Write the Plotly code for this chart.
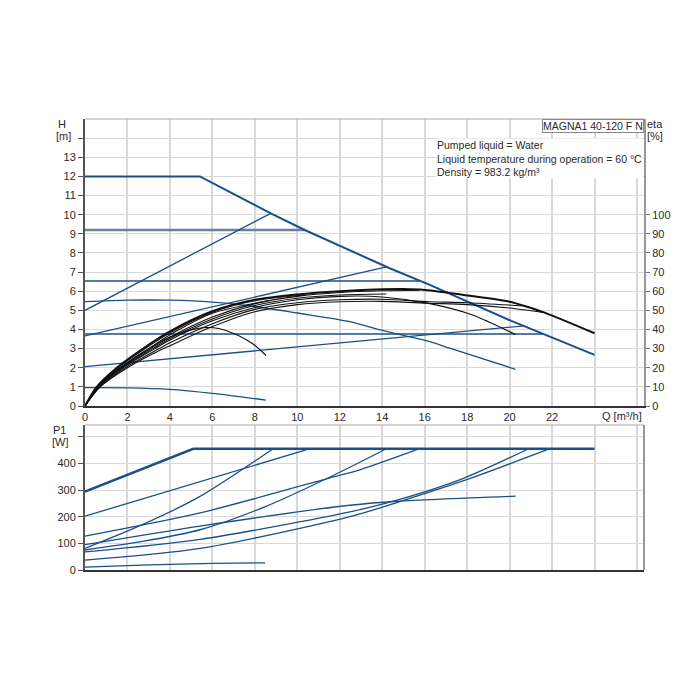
import plotly.graph_objects as go

# ---- head curves H [m] vs Q [m3/h]
q_max = [0, 5.41, 8.75, 10.35, 14.35, 16.24, 20.08, 24.0]
h_max = [12, 12, 10.07, 9.2, 7.2, 6.33, 4.45, 2.67]
q_cp92 = [0, 10.35]
h_cp92 = [9.2, 9.2]
q_pp5 = [0, 8.75]
h_pp5 = [5.0, 10.07]
q_cp655 = [0, 15.76]
h_cp655 = [6.53, 6.53]
q_pp37 = [0, 14.2]
h_pp37 = [3.66, 7.27]
q_cc55 = [0, 2, 4, 6, 8, 10, 12.47, 14, 16.24, 17.18, 20.27]
h_cc55 = [5.45, 5.53, 5.53, 5.43, 5.2, 4.86, 4.41, 3.95, 3.36, 3.02, 1.92]
q_cp375 = [0, 21.6]
h_cp375 = [3.76, 3.76]
q_pp21 = [0, 20.7]
h_pp21 = [2.06, 4.19]
q_cc10 = [0, 2, 4, 6, 8.52]
h_cc10 = [0.96, 0.95, 0.87, 0.66, 0.31]

# ---- efficiency curves eta [%]
eq_max = [0, 0.55, 1.5, 2.6, 4, 6, 8, 10, 12, 14, 15, 16, 18, 20, 20.7, 21.65, 24]
eta_max = [0, 10, 20, 29, 39, 49.5, 55.5, 58.3, 60, 61, 61.1, 60.6, 57.8, 54.5, 52.3, 48.8, 38]
eq_cp92 = [0, 0.57, 1.55, 2.7, 4.05, 6, 8, 10.35]
eta_cp92 = [0, 10, 20, 29, 38.5, 49, 55, 58]
eq_pp5 = [0, 0.6, 1.65, 3.0, 4.2, 6, 8.75]
eta_pp5 = [0, 10, 20, 30, 38.5, 48.5, 55.3]
eq_cp655 = [0, 0.6, 1.7, 3.1, 4, 6, 8, 10, 12, 14, 15.76]
eta_cp655 = [0, 10, 20, 30, 36, 46.5, 53.5, 57.3, 59.3, 60.2, 60.5]
eq_pp37 = [0, 0.62, 1.75, 3.2, 4, 6, 8, 10, 12, 14.2]
eta_pp37 = [0, 10, 20, 30, 35.3, 45.5, 52.5, 56.3, 58, 58.5]
eq_cc55 = [0, 0.63, 1.8, 3.3, 4, 6, 8, 10, 12, 14, 16.24, 18.25, 20.27]
eta_cc55 = [0, 10, 20, 30, 34.5, 44.5, 51.5, 55.5, 57.3, 57, 53.5, 47.6, 37.4]
eq_cc10 = [0, 0.6, 1.65, 3.0, 4, 5, 5.7, 6.3, 7.1, 7.9, 8.53]
eta_cc10 = [0, 10, 20, 30, 36, 39.8, 41, 40.5, 37.5, 32.5, 26.4]
eq_pp21 = [0, 0.68, 1.9, 3.5, 4, 6, 8, 10, 12, 14, 16.24, 18, 20.7]
eta_pp21 = [0, 10, 20, 30, 33, 43, 50.5, 54, 55.5, 55.8, 54.5, 54.0, 52.3]
eq_cp375 = [0, 0.72, 2.0, 3.7, 4, 6, 8, 10, 12, 14, 16.24, 18, 20, 21.65]
eta_cp375 = [0, 10, 20, 30, 31.5, 41.5, 49.3, 53, 54.5, 54.7, 53.7, 53, 51.2, 48.8]

# ---- power curves P1 [W]
pq_max = [0, 5.1, 24.0]
p_max = [294, 455, 455]
pq_cp92 = [0, 10.6]
p_cp92 = [202, 455]
pq_pp5 = [0, 2.7, 5.42, 8.86]
p_pp5 = [81, 170, 276, 455]
pq_cp655 = [0, 5.42, 11.54, 12.95, 15.76]
p_cp655 = [127, 214, 346, 376, 455]
pq_pp37 = [0, 2.7, 5.42, 8.5, 11.54, 14.2]
p_pp37 = [75, 107, 151, 238, 349, 455]
pq_cc55 = [0, 5.42, 12.48, 14.7, 20.28]
p_cc55 = [95, 165, 243, 258, 277]
pq_pp21 = [0, 5.42, 12.48, 14.7, 17.8, 20.9]
p_pp21 = [68, 115, 218, 262, 343, 455]
pq_cp375 = [0, 5.42, 12.48, 14.8, 17.8, 21.9]
p_cp375 = [37, 81, 200, 256, 334, 455]
pq_cc10 = [0, 3, 6, 8.48]
p_cc10 = [11, 19, 25, 27]

BLUE = "#1b4f8a"
GREY_BLUE = "#6b7fa3"
BLACK = "#111111"
GRID = "#d9d9d9"
TXT = "#2a2a2a"
FONT = "Liberation Sans, Arial, sans-serif"

fig = go.Figure()


def add(x, y, xa, ya, color, width, shape="linear"):
    fig.add_trace(go.Scatter(x=x, y=y, xaxis=xa, yaxis=ya, mode="lines",
                             line=dict(color=color, width=width, shape=shape, smoothing=0.8),
                             hoverinfo="skip", showlegend=False))


# head curves
add(q_cp92, h_cp92, "x", "y", GREY_BLUE, 2.5)
add(q_max, h_max, "x", "y", BLUE, 2)
add(q_pp5, h_pp5, "x", "y", BLUE, 1.3)
add(q_cp655, h_cp655, "x", "y", BLUE, 1.5)
add(q_pp37, h_pp37, "x", "y", BLUE, 1.3)
add(q_cc55, h_cc55, "x", "y", BLUE, 1.3, "spline")
add(q_cp375, h_cp375, "x", "y", BLUE, 1.5)
add(q_pp21, h_pp21, "x", "y", BLUE, 1.3)
add(q_cc10, h_cc10, "x", "y", BLUE, 1.3, "spline")

# efficiency curves
for eq, ev, w in [(eq_cp375, eta_cp375, 1.1), (eq_pp21, eta_pp21, 1.1), (eq_cc10, eta_cc10, 1.1),
                  (eq_cc55, eta_cc55, 1.1), (eq_pp37, eta_pp37, 1.1), (eq_cp655, eta_cp655, 1.1),
                  (eq_pp5, eta_pp5, 1.1), (eq_cp92, eta_cp92, 1.1), (eq_max, eta_max, 2)]:
    add(eq, ev, "x", "y2", BLACK, w, "spline")

# power curves
add(pq_max, p_max, "x2", "y3", BLUE, 2.5)
add(pq_cp92, p_cp92, "x2", "y3", BLUE, 1.3)
add(pq_pp5, p_pp5, "x2", "y3", BLUE, 1.3, "spline")
add(pq_cp655, p_cp655, "x2", "y3", BLUE, 1.3, "spline")
add(pq_pp37, p_pp37, "x2", "y3", BLUE, 1.3, "spline")
add(pq_cc55, p_cc55, "x2", "y3", BLUE, 1.3, "spline")
add(pq_pp21, p_pp21, "x2", "y3", BLUE, 1.3, "spline")
add(pq_cp375, p_cp375, "x2", "y3", BLUE, 1.3, "spline")
add(pq_cc10, p_cc10, "x2", "y3", BLUE, 1.3, "spline")

x_ticks = list(range(0, 27, 2))
x_text = [str(v) if v <= 22 else "" for v in x_ticks]
tickfont = dict(family=FONT, size=11, color=TXT)

top_lo = (570 - 406) / 451
bot_hi = (570 - 425) / 451

# the page body adds 8px around the figure, so margins are trimmed by 8
fig.update_layout(
    width=700, height=700,
    margin=dict(l=77, r=64, t=111, b=138),
    plot_bgcolor="white", paper_bgcolor="white",
    font=dict(family=FONT, size=11, color=TXT),
    xaxis=dict(domain=[0, 1], anchor="y", range=[0, 26.33], tickvals=x_ticks, ticktext=x_text,
               showgrid=True, gridcolor=GRID, gridwidth=1.5, zeroline=False,
               showline=True, linecolor="#333", linewidth=1.5, ticks="", tickfont=tickfont),
    yaxis=dict(domain=[top_lo, 1], anchor="x", range=[0, 15], tickvals=list(range(0, 15)),
               ticktext=[str(v) for v in range(0, 14)] + [""],
               showgrid=True, gridcolor=GRID, gridwidth=1.3, zeroline=False,
               showline=True, linecolor="#555", linewidth=2, ticks="outside", ticklen=5,
               tickcolor="#555", tickfont=tickfont),
    yaxis2=dict(overlaying="y", side="right", anchor="x", range=[0, 150],
                tickvals=list(range(0, 101, 10)), showgrid=False, zeroline=False,
                showline=True, linecolor="#999", linewidth=2, ticks="outside", ticklen=4,
                tickcolor="#777", tickfont=tickfont),
    xaxis2=dict(domain=[0, 1], anchor="y3", range=[0, 26.33], tickvals=x_ticks,
                showticklabels=False, showgrid=True, gridcolor=GRID, gridwidth=1.5, zeroline=False,
                showline=True, linecolor="#333", linewidth=1.5, ticks=""),
    yaxis3=dict(domain=[0, bot_hi], anchor="x2", range=[0, 544], tickvals=list(range(0, 501, 100)),
                ticktext=["0", "100", "200", "300", "400", ""],
                showgrid=True, gridcolor=GRID, gridwidth=1.3, zeroline=False,
                showline=True, linecolor="#555", linewidth=2, ticks="outside", ticklen=5,
                tickcolor="#555", tickfont=tickfont),
    shapes=[
        dict(type="line", xref="paper", yref="paper", x0=0, x1=1, y0=1, y1=1,
             line=dict(color="#aaa", width=1.2)),
        dict(type="line", xref="paper", yref="paper", x0=0, x1=1, y0=bot_hi, y1=bot_hi,
             line=dict(color="#aaa", width=1.2)),
        dict(type="line", xref="paper", yref="paper", x0=1, x1=1, y0=0, y1=bot_hi,
             line=dict(color="#999", width=2)),
    ],
)


def px(xp, yp):
    return (xp - 85) / 559, (570 - yp) / 451


def label(text, xp, yp):
    x, y = px(xp, yp)
    fig.add_annotation(text=text, x=x, y=y, xref="paper", yref="paper", showarrow=False,
                       xanchor="center", yanchor="middle",
                       font=dict(family=FONT, size=11, color=TXT))


label("H", 62, 124)
label("[m]", 63, 136)
label("eta", 655, 124)
label("[%]", 655, 136)
label("P1", 59, 430)
label("[W]", 60, 442)
label("Q [m³/h]", 622, 416)

x0, y0 = px(644, 119)
fig.add_annotation(text="MAGNA1 40-120 F N", x=x0, y=y0, xref="paper", yref="paper",
                   xanchor="right", yanchor="top", showarrow=False, bgcolor="white",
                   bordercolor="#888", borderwidth=1, borderpad=0,
                   font=dict(family=FONT, size=10.5, color=TXT))

x1, y1 = px(436, 138)
fig.add_annotation(text="Pumped liquid = Water<br>Liquid temperature during operation = 60 °C<br>Density = 983.2 kg/m³",
                   x=x1, y=y1, xref="paper", yref="paper", xanchor="left", yanchor="top",
                   align="left", showarrow=False, bgcolor="white", borderpad=0,
                   font=dict(family=FONT, size=10.5, color=TXT))

fig.write_html("out.html")
